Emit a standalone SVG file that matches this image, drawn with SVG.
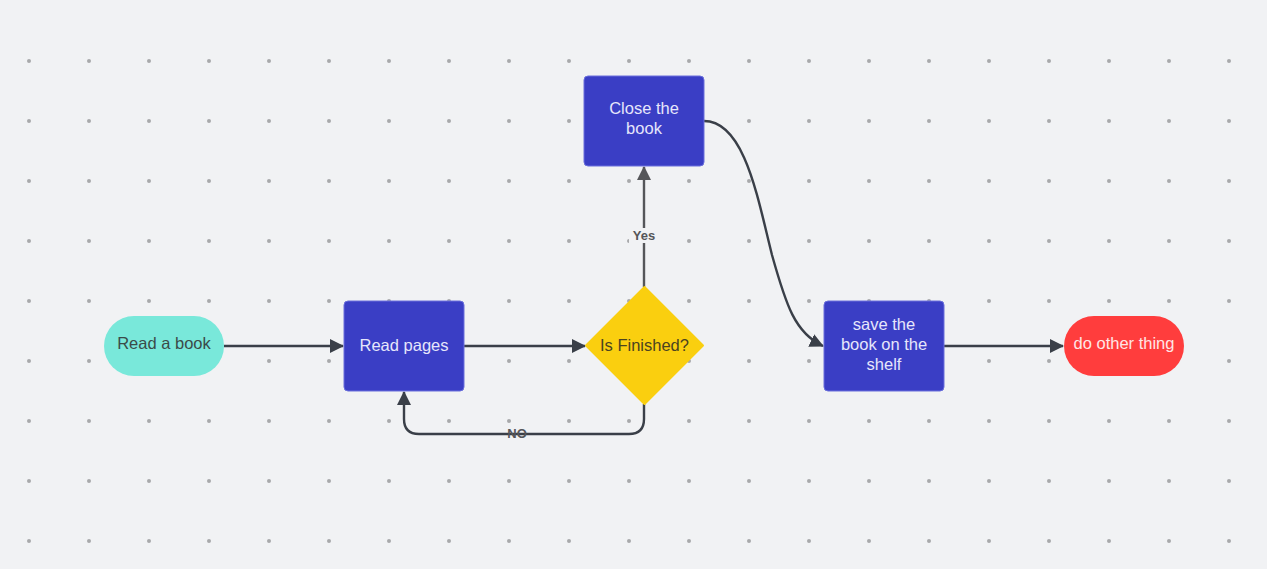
<svg xmlns="http://www.w3.org/2000/svg" width="1267" height="569" viewBox="0 0 1267 569">
<defs>
<pattern id="dots" x="0" y="31" width="60" height="60" patternUnits="userSpaceOnUse">
<circle cx="29" cy="30" r="2" fill="#a8a9ab"/>
</pattern>
<marker id="arr" viewBox="0 0 14 14" refX="13" refY="7" markerWidth="14" markerHeight="14" markerUnits="userSpaceOnUse" orient="auto">
<path d="M0,0 L14,7 L0,14 Z" fill="#3a3f48"/>
</marker>
<marker id="arrg" viewBox="0 0 14 14" refX="13" refY="7" markerWidth="14" markerHeight="14" markerUnits="userSpaceOnUse" orient="auto">
<path d="M0,0 L14,7 L0,14 Z" fill="#555659"/>
</marker>
<style>
.t{font-family:"Liberation Sans",Arial,sans-serif;font-size:16.5px;text-anchor:middle}
.blue{fill:#3a3ec5;stroke:#6a6fdc;stroke-width:1}
.wt{fill:#e6e6fb}
.c{fill:none;stroke:#3a3f48;stroke-width:2.4}
.lbl{font-family:"Liberation Sans",Arial,sans-serif;font-size:13px;font-weight:bold;fill:#555659;text-anchor:middle}
</style>
</defs>
<rect width="1267" height="569" fill="#f1f2f4"/>
<rect x="0" y="31" width="1267" height="530" fill="url(#dots)"/>

<g id="connectors">
<path class="c" d="M224,346 H343" marker-end="url(#arr)"/>
<path class="c" d="M464,346 H585" marker-end="url(#arr)"/>
<path class="c" d="M644,404 V419 Q644,434 629,434 H419 Q404,434 404,419 V392" marker-end="url(#arr)"/>
<path d="M644,287 V167" fill="none" stroke="#555659" stroke-width="2.4" marker-end="url(#arrg)"/>
<path class="c" d="M704,121 C745,121 758,200 772,255 C786,305 795,333 823,346" marker-end="url(#arr)"/>
<path class="c" d="M944,346 H1063" marker-end="url(#arr)"/>
<rect x="629" y="228" width="30" height="15" fill="#f1f2f4"/>
<text class="lbl" x="644" y="240">Yes</text>
<text class="lbl" x="517" y="438">NO</text>
</g>

<g id="read-a-book">
<rect x="104" y="316" width="120" height="60" rx="30" fill="#79e8da"/>
<text class="t" x="164" y="349" fill="#3b4b49">Read a book</text>
</g>
<g id="read-pages">
<rect class="blue" x="344" y="301" width="120" height="90" rx="4"/>
<text class="t wt" x="404" y="351">Read pages</text>
</g>
<g id="is-finished">
<path d="M644.5,287 L703,345.5 L644.5,404 L586,345.5 Z" fill="#facf0f" stroke="#facf0f" stroke-width="2" stroke-linejoin="round"/>
<text class="t" x="644.5" y="351" fill="#4a4320">Is Finished?</text>
</g>
<g id="close-the-book">
<rect class="blue" x="584" y="76" width="120" height="90" rx="4"/>
<text class="t wt" x="644" y="114">Close the</text>
<text class="t wt" x="644" y="134">book</text>
</g>
<g id="save-the-book">
<rect class="blue" x="824" y="301" width="120" height="90" rx="4"/>
<text class="t wt" x="884" y="330">save the</text>
<text class="t wt" x="884" y="350">book on the</text>
<text class="t wt" x="884" y="370">shelf</text>
</g>
<g id="do-other-thing">
<rect x="1064" y="316" width="120" height="60" rx="30" fill="#ff3d3d"/>
<text class="t" x="1124" y="349" fill="#ffe6e6">do other thing</text>
</g>
</svg>
